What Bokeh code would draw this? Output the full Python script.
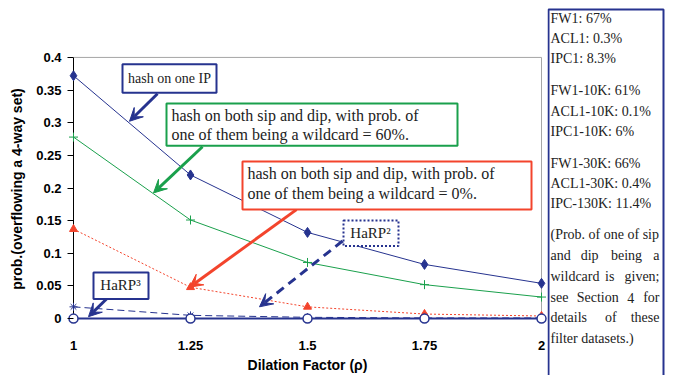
from bokeh.plotting import figure
from bokeh.layouts import row
from bokeh.models import FixedTicker, Label, BoxAnnotation, Arrow, VeeHead, Range1d
from bokeh.embed import file_html
from bokeh.resources import INLINE

# ---------------- data ----------------
dilation = [1, 1.25, 1.5, 1.75, 2]
hash_one_ip = [0.372, 0.220, 0.132, 0.083, 0.054]
hash_both_60 = [0.278, 0.151, 0.086, 0.052, 0.033]
hash_both_0 = [0.137, 0.048, 0.018, 0.007, 0.004]
harp2 = [0.018, 0.005, 0.002, 0.001, 0.001]
harp3 = [0.0, 0.0, 0.0, 0.0, 0.0]

y_ticks = [0, 0.05, 0.1, 0.15, 0.2, 0.25, 0.3, 0.35, 0.4]
y_tick_labels = ["0", "0.05", "0.1", "0.15", "0.2", "0.25", "0.3", "0.35", "0.4"]
x_tick_labels = ["1", "1.25", "1.5", "1.75", "2"]

side_lines = ["FW1: 67%", "ACL1: 0.3%", "IPC1: 8.3%", "",
              "FW1-10K: 61%", "ACL1-10K: 0.1%", "IPC1-10K: 6%", "",
              "FW1-30K: 66%", "ACL1-30K: 0.4%", "IPC-130K: 11.4%", "",
              "(Prob. of one of sip", "and dip being a", "wildcard is given;",
              "see Section 4 for", "details of these", "filter datasets.)"]
justified = {"and dip being a", "wildcard is given;", "see Section 4 for", "details of these"}

NAVY = "#26338f"
GREEN = "#1aa04c"
RED = "#f3442c"
GRAY = "#a6a6a6"
SERIF = "Liberation Serif"
SANS = "Liberation Sans"

# pixel -> data helpers (layout only)
def dx(px):
    return 1 + (px - 73) / 468.0

def dy(py):
    return (323 - py) / 665.0

p = figure(width=547, height=375,
           x_range=Range1d(dx(67), dx(547)), y_range=Range1d(dy(329), dy(53)),
           output_backend="svg", toolbar_location=None,
           min_border_left=67, min_border_right=0, min_border_top=53, min_border_bottom=46)
p.outline_line_color = None
p.grid.visible = False
p.background_fill_color = "white"
p.frame_align = False

# y axis
p.yaxis.ticker = FixedTicker(ticks=y_ticks)
p.yaxis.major_label_overrides = {t: s for t, s in zip(y_ticks, y_tick_labels)}
p.yaxis.axis_line_color = None
p.yaxis.major_tick_in = 6
p.yaxis.major_tick_out = 0
p.yaxis.major_tick_line_color = "black"
p.yaxis.minor_tick_line_color = None
p.yaxis.major_label_standoff = 6
p.yaxis.major_label_text_font = SANS
p.yaxis.major_label_text_font_style = "bold"
p.yaxis.major_label_text_font_size = "13px"
p.yaxis.major_label_text_color = "black"
p.yaxis.axis_label = "prob.(overflowing a 4-way set)"
p.yaxis.axis_label_text_font = SANS
p.yaxis.axis_label_text_font_style = "bold"
p.yaxis.axis_label_text_font_size = "14px"
p.yaxis.axis_label_text_color = "black"
p.yaxis.axis_label_standoff = 8

# x axis
p.xaxis.ticker = FixedTicker(ticks=dilation)
p.xaxis.major_label_overrides = {t: s for t, s in zip(dilation, x_tick_labels)}
p.xaxis.axis_line_color = None
p.xaxis.major_tick_line_color = None
p.xaxis.minor_tick_line_color = None
p.xaxis.major_label_standoff = 10
p.xaxis.major_label_text_font = SANS
p.xaxis.major_label_text_font_style = "bold"
p.xaxis.major_label_text_font_size = "13px"
p.xaxis.major_label_text_color = "black"
p.xaxis.axis_label = "Dilation Factor (\u03c1)"
p.xaxis.axis_label_text_font = SANS
p.xaxis.axis_label_text_font_style = "bold"
p.xaxis.axis_label_text_font_size = "14px"
p.xaxis.axis_label_text_color = "black"
p.xaxis.axis_label_standoff = 4

# frame lines
p.segment(x0=[dilation[0]], y0=[y_ticks[0]], x1=[dilation[0]], y1=[y_ticks[-1]], line_color="black", line_width=1)
p.segment(x0=[dilation[0]], y0=[y_ticks[-1]], x1=[dilation[-1]], y1=[y_ticks[-1]], line_color=GRAY, line_width=1)
p.segment(x0=[dilation[-1]], y0=[y_ticks[0]], x1=[dilation[-1]], y1=[y_ticks[-1]], line_color=GRAY, line_width=1)

# series
p.line(dilation, hash_one_ip, line_color=NAVY, line_width=1)
p.scatter(dilation, hash_one_ip, marker="diamond", size=10, fill_color=NAVY, line_color=NAVY)

p.line(dilation, hash_both_60, line_color=GREEN, line_width=1)
p.scatter(dilation, hash_both_60, marker="cross", size=9, line_color=GREEN, line_width=1)

p.line(dilation, hash_both_0, line_color=RED, line_width=1, line_dash="2 2")
p.scatter(dilation, hash_both_0, marker="triangle", size=8, fill_color=RED, line_color=RED)

p.line(dilation, harp2, line_color=NAVY, line_width=1, line_dash="7 4")
p.scatter(dilation, harp2, marker="asterisk", size=8, line_color=NAVY, line_width=1)

p.line(dilation, harp3, line_color=NAVY, line_width=2)
p.scatter(dilation, harp3, marker="circle", size=9, fill_color="white", line_color=NAVY, line_width=1.5)

# ---------------- annotations ----------------
def box(fig, l, t, r, b, color, dash="solid", fx=dx, fy=dy):
    fig.add_layout(BoxAnnotation(left=fx(l), right=fx(r), top=fy(t), bottom=fy(b),
                                 fill_color="white", fill_alpha=1.0, line_color=color,
                                 line_width=2, line_dash=dash, line_alpha=1.0))

def text(fig, px, py, s, size="15px", align="left", fx=dx, fy=dy):
    fig.add_layout(Label(x=fx(px), y=fy(py), text=s, text_align=align, text_baseline="middle",
                         text_font=SERIF, text_font_size=size, text_color="#222222"))

def arrow(x0, y0, x1, y1, color, dash="solid"):
    p.add_layout(Arrow(x_start=dx(x0), y_start=dy(y0), x_end=dx(x1), y_end=dy(y1),
                       line_color=color, line_width=3, line_dash=dash,
                       end=VeeHead(size=13, fill_color=color, line_color=color, line_width=1)))

# hash on one IP
arrow(157, 94, 129, 122, NAVY)
box(p, 122, 64, 216, 93, NAVY)
text(p, 169, 78, "hash on one IP", align="center", size="14px")

# 60%
arrow(202, 148, 153, 195, GREEN)
box(p, 166, 104, 457, 147, GREEN)
text(p, 171, 116, "hash on both sip and dip, with prob. of", size="16px")
text(p, 171, 136, "one of them being a wildcard = 60%.", size="16px")

# 0%
arrow(296, 212, 189, 291, RED)
box(p, 242, 163, 531, 212, RED)
text(p, 247, 175, "hash on both sip and dip, with prob. of", size="16px")
text(p, 247, 196, "one of them being a wildcard = 0%.", size="16px")

# HaRP2
arrow(342, 244, 259, 311, NAVY, dash="9 6")
box(p, 343, 223, 398, 249, NAVY, dash="2 2")
text(p, 370, 236, "HaRP\u00b2", align="center", size="15px")

# HaRP3
arrow(106, 303, 88, 321, NAVY)
box(p, 93, 276, 148, 303, NAVY)
text(p, 120, 289, "HaRP\u00b3", align="center", size="15px")

# ---------------- side panel ----------------
SIDE_X0 = 547
side = figure(width=138, height=375, x_range=Range1d(0, 138), y_range=Range1d(375, 0),
              x_axis_type=None, y_axis_type=None, output_backend="svg", toolbar_location=None,
              min_border_left=0, min_border_right=0, min_border_top=0, min_border_bottom=0)
side.outline_line_color = None
side.grid.visible = False
side.frame_align = False

def sx(px):
    return px - SIDE_X0

def sy(py):
    return py

TXT_L, TXT_R = 550, 659
CHAR_W = 6.1  # approx width per character (14px serif), for justification

box(side, 548, 9, 663, 380, NAVY, fx=sx, fy=sy)
line_y = [18, 38, 58, 74, 90, 111, 131, 147, 163, 183, 203, 219, 234, 255, 276, 297, 317, 338]
for s, yy in zip(side_lines, line_y):
    if not s:
        continue
    if s in justified:
        words = s.split(" ")
        widths = [len(w) * CHAR_W for w in words]
        gap = (TXT_R - TXT_L - sum(widths)) / (len(words) - 1)
        xcur = TXT_L
        for i, w in enumerate(words):
            if i == len(words) - 1:
                text(side, TXT_R, yy, w, size="14px", align="right", fx=sx, fy=sy)
            else:
                text(side, xcur, yy, w, size="14px", fx=sx, fy=sy)
            xcur += widths[i] + gap
    else:
        text(side, TXT_L, yy, s, size="14px", fx=sx, fy=sy)

layout = row(p, side, spacing=0)
open("out.html", "w").write(file_html(layout, INLINE))
